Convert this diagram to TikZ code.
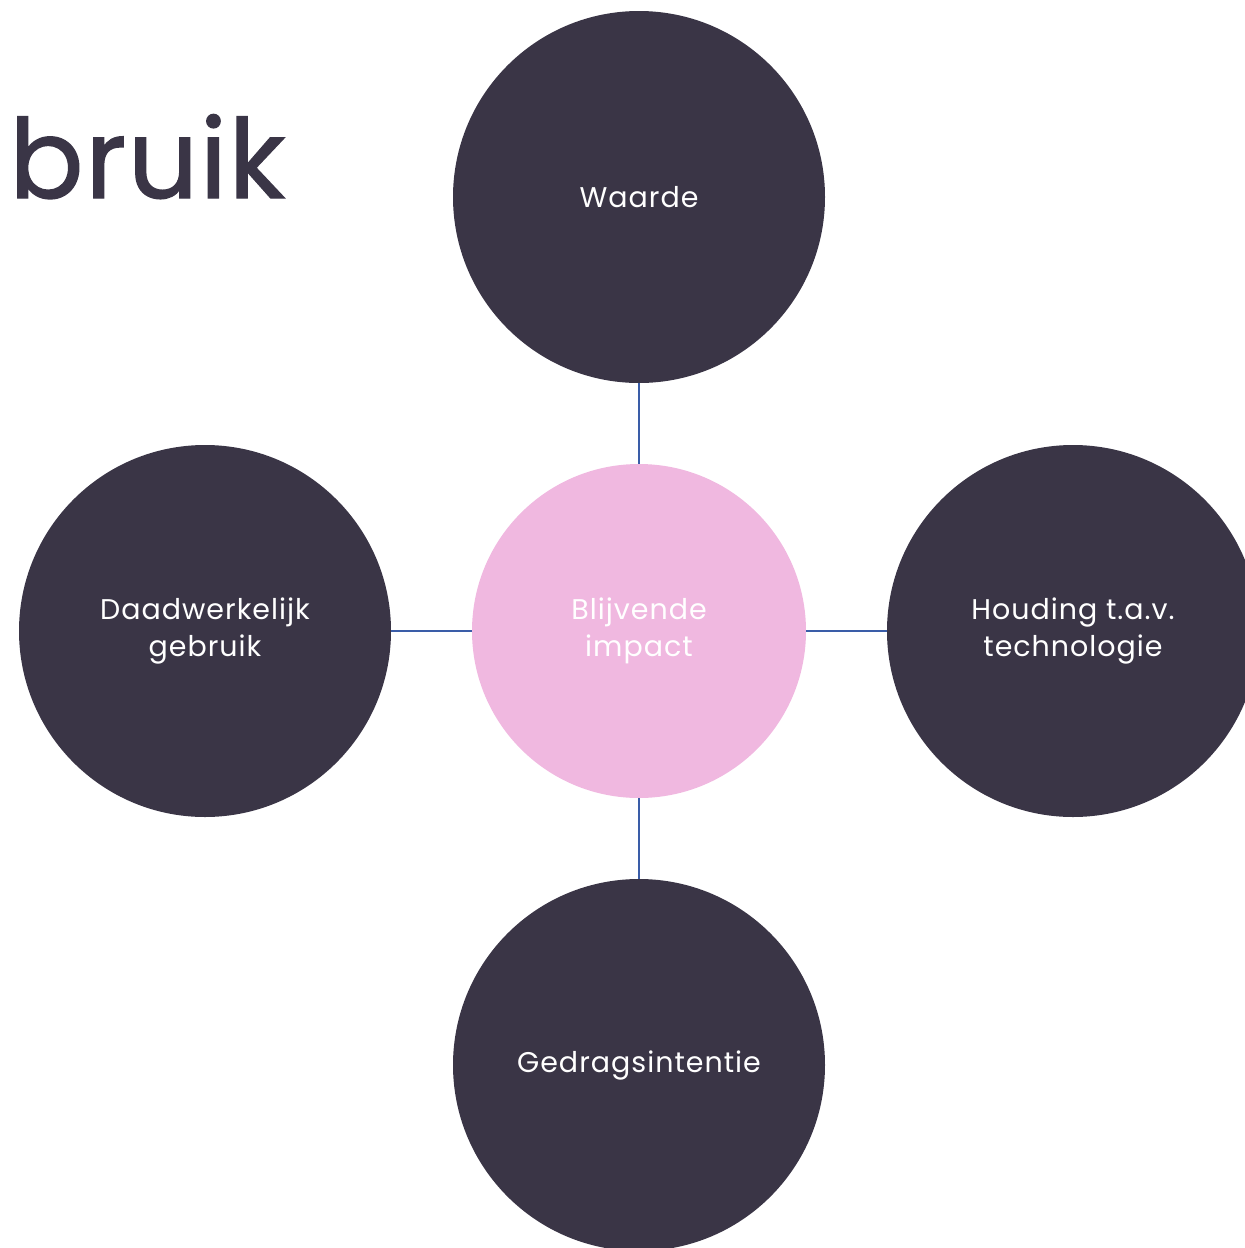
\documentclass[tikz,border=0pt]{standalone}
\usepackage{fontspec}
\setmainfont[LetterSpace=3.5]{Poppins}
\newfontfamily\titelfont[FakeBold=1.2, LetterSpace=1.5]{Poppins}
\definecolor{donker}{HTML}{3A3546}
\definecolor{roze}{HTML}{F0B8E0}
\definecolor{lijn}{HTML}{3A5DA8}
\tikzset{
  factor/.style={circle, fill=donker, text=white, minimum size=372pt, inner sep=0pt, align=center, font=\fontsize{28.5}{37}\selectfont},
  kern/.style={circle, fill=roze, text=white, minimum size=334pt, inner sep=0pt, align=center, font=\fontsize{28.5}{37}\selectfont},
  verbinding/.style={draw=lijn, line width=2.6pt}
}
\begin{document}
\begin{tikzpicture}[x=1pt, y=-1pt]

\useasboundingbox (0,0) rectangle (1245,1248);
\clip (0,0) rectangle (1245,1248);

% title, cut off at the left
\node[anchor=base west, inner sep=0pt, text=donker, font=\titelfont\fontsize{110}{120}\selectfont] (titel) at (9,198) {bruik};

% centre
\node[kern] (impact) at (639,631) {Blijvende\\impact};

% the four factors
\node[factor] (waarde) at (639,197) {Waarde};
\node[factor] (gebruik) at (205,631) {Daadwerkelijk\\gebruik};
\node[factor] (houding) at (1073,631) {Houding t.a.v.\\technologie};
\node[factor] (gedrag) at (639,1065) {Gedragsintentie};

% connectors
\draw[verbinding] (waarde) -- (impact);
\draw[verbinding] (gebruik) -- (impact);
\draw[verbinding] (houding) -- (impact);
\draw[verbinding] (gedrag) -- (impact);

\end{tikzpicture}
\end{document}
